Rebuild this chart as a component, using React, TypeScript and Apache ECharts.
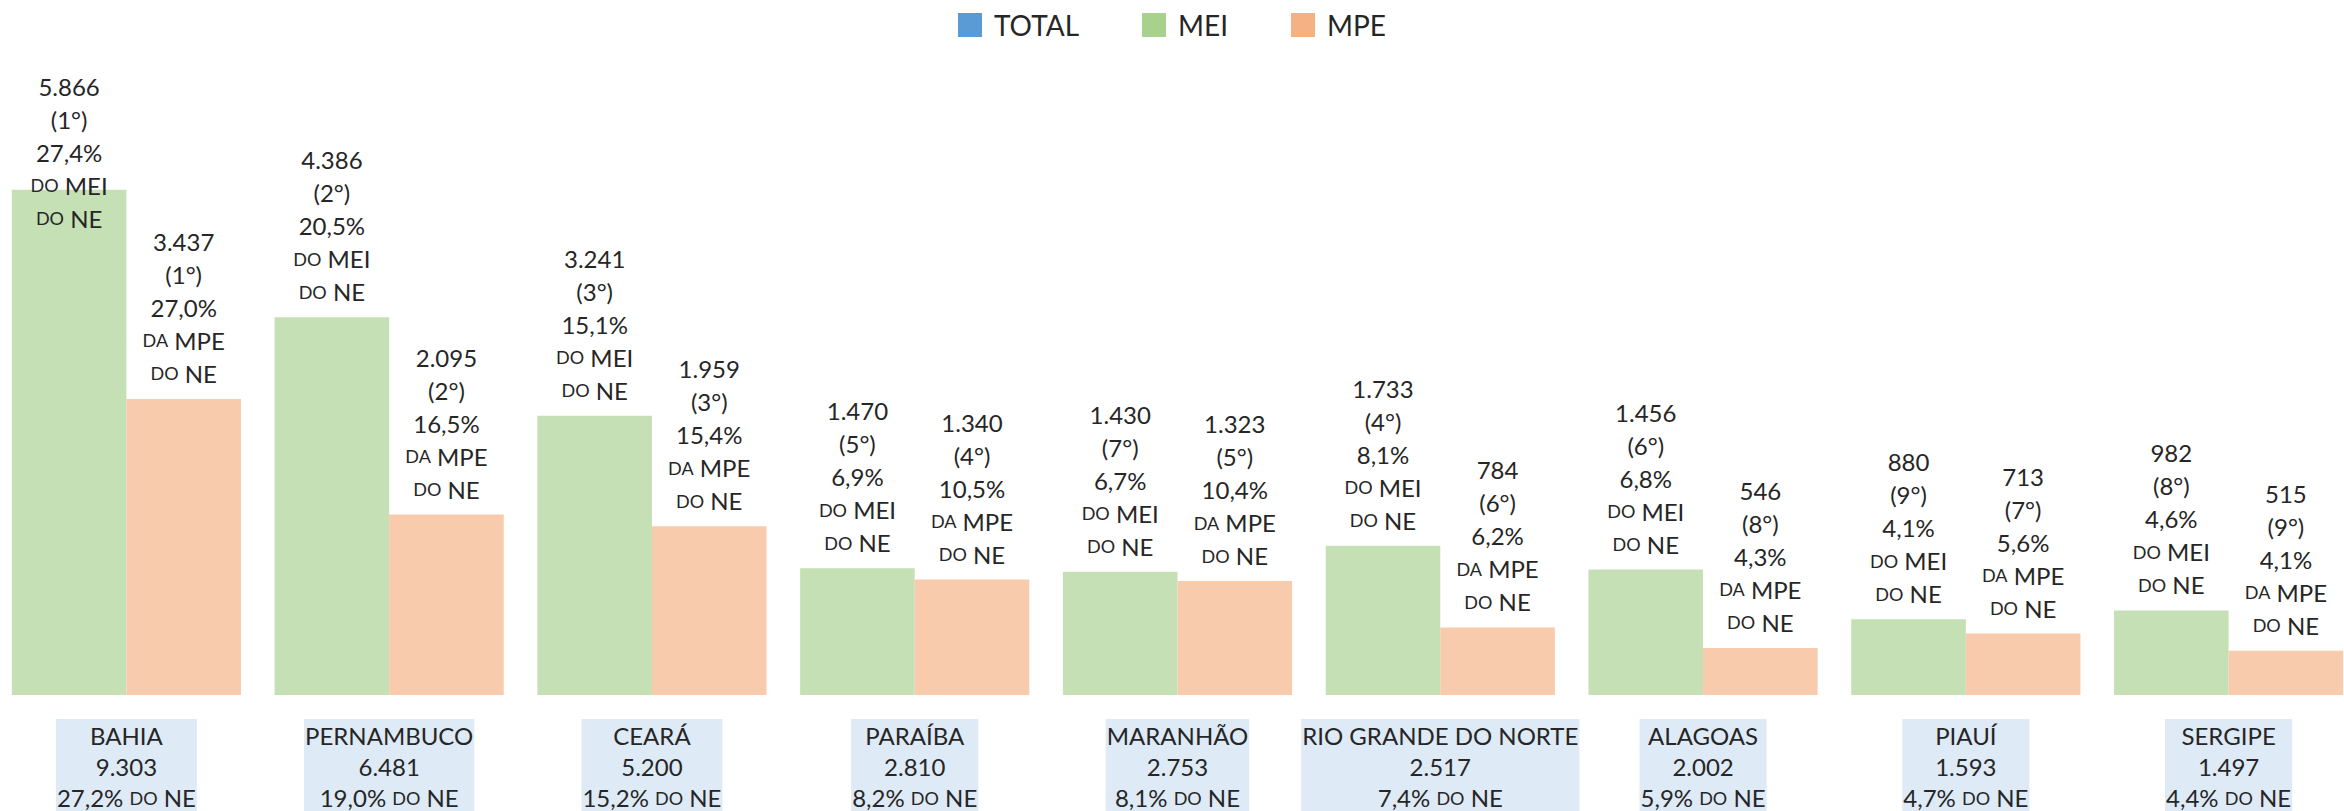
import React, { useEffect, useRef } from "react";
import * as echarts from "echarts";

const states = ["BAHIA", "PERNAMBUCO", "CEARÁ", "PARAÍBA", "MARANHÃO", "RIO GRANDE DO NORTE", "ALAGOAS", "PIAUÍ", "SERGIPE"];
const totalValues = [9303, 6481, 5200, 2810, 2753, 2517, 2002, 1593, 1497];
const totalShares = [27.2, 19.0, 15.2, 8.2, 8.1, 7.4, 5.9, 4.7, 4.4];
const meiValues = [5866, 4386, 3241, 1470, 1430, 1733, 1456, 880, 982];
const meiRanks = [1, 2, 3, 5, 7, 4, 6, 9, 8];
const meiShares = [27.4, 20.5, 15.1, 6.9, 6.7, 8.1, 6.8, 4.1, 4.6];
const mpeValues = [3437, 2095, 1959, 1340, 1323, 784, 546, 713, 515];
const mpeRanks = [1, 2, 3, 4, 5, 6, 8, 7, 9];
const mpeShares = [27.0, 16.5, 15.4, 10.5, 10.4, 6.2, 4.3, 5.6, 4.1];

const FONT = "Lato";
const TXT = "#262626";

const fmtInt = (n: number) => String(n).replace(/\B(?=(\d{3})+(?!\d))/g, ".");
const fmtPct = (n: number) => n.toFixed(1).replace(".", ",") + "%";

const barRich = {
  v: { fontSize: 24, lineHeight: 33, color: TXT, fontFamily: FONT },
  s: { fontSize: 18, lineHeight: 33, color: TXT, fontFamily: FONT },
};
const axisRich = {
  v: { fontSize: 24, lineHeight: 31, color: TXT, fontFamily: FONT },
  s: { fontSize: 18, lineHeight: 31, color: TXT, fontFamily: FONT },
};

export default function App() {
  const ref = useRef<HTMLDivElement>(null);
  useEffect(() => {
    if (!ref.current) return;
    const chart = echarts.init(ref.current, null, { renderer: "svg" });
    const barLabel = (values: number[], ranks: number[], shares: number[], art: string, kind: string) => ({
      show: true,
      position: "top",
      distance: 9,
      formatter: (p: any) => {
        const i = p.dataIndex;
        return `{v|${fmtInt(values[i])}}\n{v|(${ranks[i]}°)}\n{v|${fmtPct(shares[i])}}\n{s|${art}}{v| ${kind}}\n{s|DO}{v| NE}`;
      },
      rich: barRich,
    });
    chart.setOption({
      animation: false,
      backgroundColor: "#ffffff",
      legend: {
        top: 6,
        left: "center",
        icon: "rect",
        itemWidth: 24,
        itemHeight: 24,
        itemGap: 63,
        textStyle: { fontSize: 28, color: TXT, fontFamily: FONT, padding: [0, 0, 0, 7] },
        data: [
          { name: "TOTAL", itemStyle: { color: "#5b9bd5" } },
          { name: "MEI", itemStyle: { color: "#a9d18e" } },
          { name: "MPE", itemStyle: { color: "#f4b183" } },
        ],
      },
      grid: { left: -5, right: -16, top: 92, bottom: 116, outerBoundsMode: "none", containLabel: false },
      xAxis: {
        type: "category",
        data: states,
        axisLine: { show: false },
        axisTick: { show: false },
        axisLabel: {
          interval: 0,
          hideOverlap: false,
          margin: 24,
          backgroundColor: "#deeaf6",
          padding: [1, 1, 0, 1],
          formatter: (val: string, i: number) =>
            `{v|${val}}\n{v|${fmtInt(totalValues[i])}}\n{v|${fmtPct(totalShares[i])} }{s|DO}{v| NE}`,
          rich: axisRich,
        },
      },
      yAxis: { type: "value", min: 0, max: 7000, show: false, splitLine: { show: false } },
      series: [
        { name: "TOTAL", type: "line", data: [], color: "#5b9bd5" },
        {
          name: "MEI",
          type: "bar",
          barGap: "0%",
          barCategoryGap: "12.8%",
          itemStyle: { color: "#c5e0b4" },
          label: barLabel(meiValues, meiRanks, meiShares, "DO", "MEI"),
          data: meiValues.map((v, i) => (i === 0 ? { value: v, label: { offset: [0, 54] } } : v)),
        },
        {
          name: "MPE",
          type: "bar",
          barGap: "0%",
          barCategoryGap: "12.8%",
          itemStyle: { color: "#f8cbad" },
          label: barLabel(mpeValues, mpeRanks, mpeShares, "DA", "MPE"),
          data: mpeValues,
        },
      ],
    });
    return () => chart.dispose();
  }, []);
  return <div ref={ref} style={{ position: "absolute", left: 0, top: 0, width: 2344, height: 811 }} />;
}
